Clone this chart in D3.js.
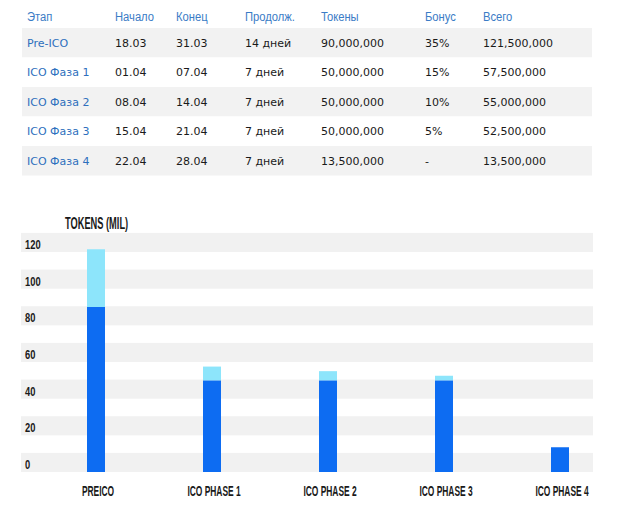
<!DOCTYPE html>
<html><head><meta charset="utf-8">
<script src="https://cdn.jsdelivr.net/npm/d3@7/dist/d3.min.js"></script>
<style>
body{margin:0;background:#fff;}
svg{display:block;}
</style></head>
<body>
<script>
// ---- table data ----
const headers = ["Этап","Начало","Конец","Продолж.","Токены","Бонус","Всего"];
const stages = ["Pre-ICO","ICO Фаза 1","ICO Фаза 2","ICO Фаза 3","ICO Фаза 4"];
const starts = ["18.03","01.04","08.04","15.04","22.04"];
const ends = ["31.03","07.04","14.04","21.04","28.04"];
const durations = ["14 дней","7 дней","7 дней","7 дней","7 дней"];
const tokens = ["90,000,000","50,000,000","50,000,000","50,000,000","13,500,000"];
const bonuses = ["35%","15%","10%","5%","-"];
const totals = ["121,500,000","57,500,000","55,000,000","52,500,000","13,500,000"];

// ---- chart data ----
const categories = ["PREICO","ICO PHASE 1","ICO PHASE 2","ICO PHASE 3","ICO PHASE 4"];
const baseValues = [90,50,50,50,13.5];
const bonusValues = [31.5,7.5,5,2.5,0];
const yTicks = [0,20,40,60,80,100,120];
const yTitle = "TOKENS (MIL)";

const W=617,H=530;
const svg=d3.select("body").append("svg").attr("width",W).attr("height",H);

// ---------- table ----------
const colX=[27,115,176,245,321,425,483];
const rowTop=28, rowH=29.5;
const tx=d3.scaleLinear().domain([0,1]).range([22,592]);
const rows=stages.map((s,i)=>[s,starts[i],ends[i],durations[i],tokens[i],bonuses[i],totals[i]]);

svg.selectAll("rect.row").data(rows).enter().append("rect")
  .attr("x",tx(0)).attr("width",tx(1)-tx(0))
  .attr("y",(d,i)=>rowTop+i*rowH).attr("height",rowH)
  .attr("fill",(d,i)=>i%2===0?"#f2f2f2":"#ffffff");

svg.selectAll("g.hdr").data(headers).enter().append("g")
  .attr("transform",(d,i)=>`translate(${colX[i]},21) scale(0.83,1)`)
  .append("text").text(d=>d)
  .attr("font-family","'Liberation Sans',Arial,sans-serif")
  .attr("font-size",13.5).attr("fill","#3b7cc6");

rows.forEach((r,i)=>{
  svg.selectAll(null).data(r).enter().append("text")
    .attr("x",(d,j)=>colX[j]).attr("y",rowTop+i*rowH+rowH/2+4)
    .text(d=>d)
    .attr("font-family","'DejaVu Sans',Verdana,sans-serif")
    .attr("font-size",11)
    .attr("fill",(d,j)=>j===0?"#2d6fbd":"#1a1a1a");
});

// ---------- chart ----------
const y=d3.scaleLinear().domain([0,120]).range([472,252]);
const x=d3.scalePoint().domain(categories).range([96,560]);
const bandL=21,bandR=593,barW=18;

svg.selectAll("rect.band").data(yTicks).enter().append("rect")
  .attr("x",bandL).attr("width",bandR-bandL)
  .attr("y",d=>y(d+10.4)).attr("height",d=>y(d)-y(d+10.4))
  .attr("fill","#f1f1f1");

const condensed=(sel)=>sel.attr("font-family","'Liberation Sans',Arial,sans-serif").attr("font-weight","bold");

// y labels
svg.selectAll("g.ylab").data(yTicks).enter().append("g")
  .attr("transform",d=>`translate(25,${y(d)-3}) scale(0.72,1)`)
  .append("text").text(d=>d).call(condensed)
  .attr("font-size",13).attr("fill","#1a1a1a");

// title
svg.append("g").attr("transform","translate(65,229) scale(0.58,1)")
  .append("text").text(yTitle).call(condensed)
  .attr("font-size",16).attr("fill","#1a1a1a");

// bars
svg.selectAll("rect.base").data(categories).enter().append("rect")
  .attr("x",d=>x(d)-barW/2).attr("width",barW)
  .attr("y",(d,i)=>y(baseValues[i])).attr("height",(d,i)=>y(0)-y(baseValues[i]))
  .attr("fill","#0d6cf2");
svg.selectAll("rect.bonus").data(categories).enter().append("rect")
  .attr("x",d=>x(d)-barW/2).attr("width",barW)
  .attr("y",(d,i)=>y(baseValues[i]+bonusValues[i]))
  .attr("height",(d,i)=>y(baseValues[i])-y(baseValues[i]+bonusValues[i]))
  .attr("fill","#8de5fb");

// x labels
svg.selectAll("g.xlab").data(categories).enter().append("g")
  .attr("transform",d=>`translate(${x(d)+2},495.5) scale(0.58,1)`)
  .append("text").text(d=>d).call(condensed)
  .attr("text-anchor","middle")
  .attr("font-size",14.5).attr("fill","#1a1a1a");
</script>
</body></html>
